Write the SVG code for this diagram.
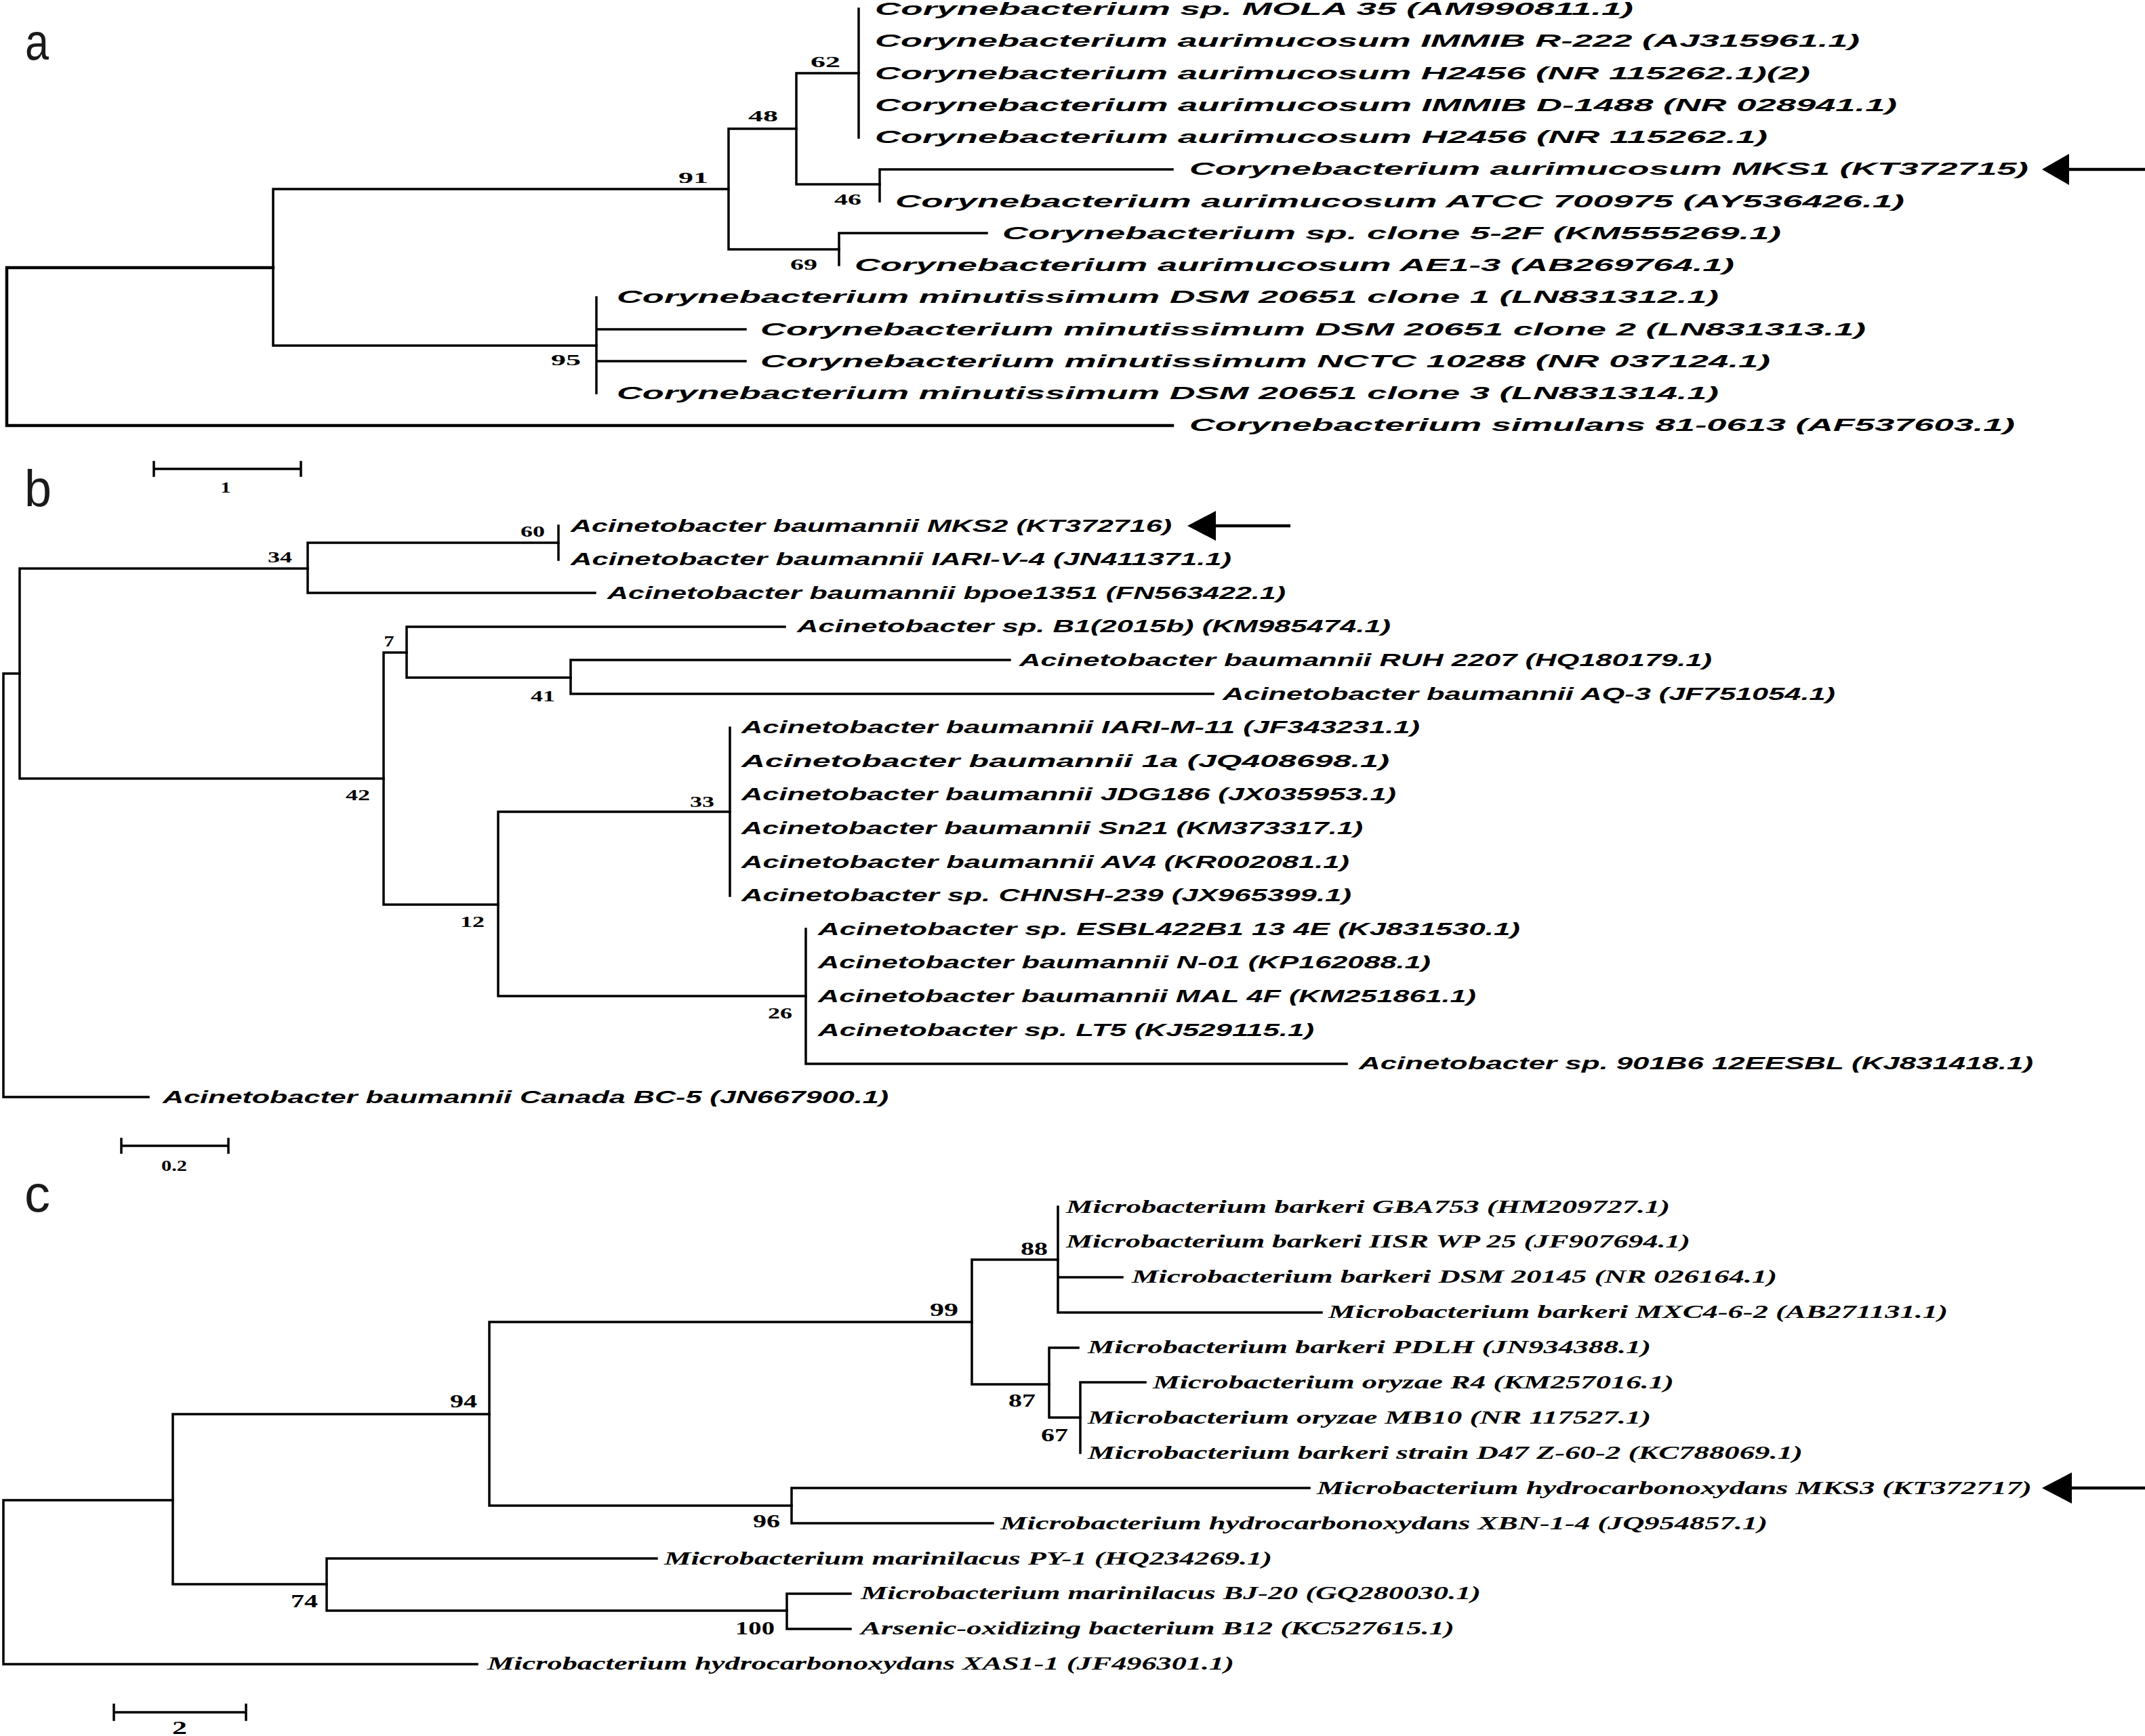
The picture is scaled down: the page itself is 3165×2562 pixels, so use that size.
<svg xmlns="http://www.w3.org/2000/svg" width="3165" height="2562" viewBox="0 0 3165 2562">
<style>
.br{stroke:#000;stroke-width:3.5;fill:none;stroke-linecap:square}
.tk{stroke:#000;stroke-width:4.5;fill:none;stroke-linecap:square}
.ab{font-family:"Liberation Sans",Arial,sans-serif;font-style:italic;font-weight:bold;font-size:26px;fill:#000}
.mc{font-family:"Liberation Serif","Times New Roman",serif;font-style:italic;font-weight:bold;font-size:28px;fill:#000}
.bs{font-family:"Liberation Serif","Times New Roman",serif;font-weight:bold;font-size:23px;text-anchor:middle;fill:#000}
.bc{font-family:"Liberation Serif","Times New Roman",serif;font-weight:bold;font-size:27px;text-anchor:middle;fill:#000}
.pl{font-family:"Liberation Sans",Arial,sans-serif;font-size:76px;fill:#1a1a1a}
.arr{fill:#000}
</style>
<rect width="3165" height="2562" fill="#fff"/>

<!-- Panel letters -->
<g id="label-a"><text class="pl" x="37" y="88" textLength="35" lengthAdjust="spacingAndGlyphs">a</text></g>
<g id="label-b"><text class="pl" x="36" y="747" textLength="40" lengthAdjust="spacingAndGlyphs">b</text></g>
<g id="label-c"><text class="pl" x="36" y="1788" textLength="38" lengthAdjust="spacingAndGlyphs">c</text></g>

<!-- Connectors -->
<g id="connectors">
  <!-- panel a -->
  <path class="tk" d="M10,395 V628 M10,395 H403 M10,628 H1730"/>
  <path class="br" d="M403,279 V510 M403,279 H1075 M403,510 H880"/>
  <path class="br" d="M1075,190 V368 M1075,190 H1175 M1075,368 H1238"/>
  <path class="br" d="M1175,108 V272 M1175,108 H1267 M1175,272 H1298"/>
  <path class="br" d="M1267,13 V203"/>
  <path class="br" d="M1298,250 V297 M1298,250 H1730"/>
  <path class="br" d="M1238,344 V391 M1238,344 H1456"/>
  <path class="br" d="M880,439 V580 M880,486 H1100 M880,533 H1100"/>
  <!-- panel b -->
  <path class="br" d="M5,994 V1619 M5,994 H29 M5,1619 H219"/>
  <path class="br" d="M29,839 V1149 M29,839 H454 M29,1149 H566"/>
  <path class="br" d="M454,801 V875 M454,801 H824 M454,875 H878"/>
  <path class="br" d="M824,776 V826"/>
  <path class="br" d="M566,963 V1335 M566,963 H600 M566,1335 H735"/>
  <path class="br" d="M600,925 V1000 M600,925 H1158 M600,1000 H842"/>
  <path class="br" d="M842,974 V1024 M842,974 H1490 M842,1024 H1790"/>
  <path class="br" d="M735,1198 V1470 M735,1198 H1077 M735,1470 H1189"/>
  <path class="br" d="M1077,1074 V1322"/>
  <path class="br" d="M1189,1371 V1570 M1189,1570 H1987"/>
  <!-- panel c -->
  <path class="br" d="M5,2214 V2456 M5,2214 H255 M5,2456 H704"/>
  <path class="br" d="M255,2087 V2338 M255,2087 H722 M255,2338 H482"/>
  <path class="br" d="M722,1951 V2222 M722,1951 H1434 M722,2222 H1168"/>
  <path class="br" d="M1434,1859 V2043 M1434,1859 H1561 M1434,2043 H1548"/>
  <path class="br" d="M1561,1781 V1937 M1561,1885 H1656 M1561,1937 H1950"/>
  <path class="br" d="M1548,1989 V2092 M1548,1989 H1591 M1548,2092 H1594"/>
  <path class="br" d="M1594,2040 V2144 M1594,2040 H1690"/>
  <path class="br" d="M1168,2196 V2248 M1168,2196 H1932 M1168,2248 H1465"/>
  <path class="br" d="M482,2300 V2377 M482,2300 H969 M482,2377 H1161"/>
  <path class="br" d="M1161,2352 V2404 M1161,2352 H1255 M1161,2404 H1255"/>
  <!-- scale bars -->
  <path class="br" d="M227,692 H444 M227,682 V702 M444,682 V702"/>
  <path class="br" d="M179,1691 H337 M179,1681 V1701 M337,1681 V1701"/>
  <path class="br" d="M168,2527 H363 M168,2516 V2538 M363,2516 V2538"/>
</g>

<!-- Arrows -->
<g id="arrows">
  <polygon class="arr" points="3013,250 3053,227 3053,273"/>
  <line x1="3050" y1="250" x2="3165" y2="250" stroke="#000" stroke-width="4.5"/>
  <polygon class="arr" points="1752,776 1794,754 1794,798"/>
  <line x1="1790" y1="776" x2="1904" y2="776" stroke="#000" stroke-width="4.5"/>
  <polygon class="arr" points="3013,2196 3057,2173 3057,2219"/>
  <line x1="3054" y1="2196" x2="3165" y2="2196" stroke="#000" stroke-width="4.5"/>
</g>

<!-- Scale labels -->
<g id="scale-labels">
  <text class="bs" x="333" y="727" textLength="15" lengthAdjust="spacingAndGlyphs">1</text>
  <text class="bs" x="257" y="1728" textLength="38" lengthAdjust="spacingAndGlyphs">0.2</text>
  <text class="bc" x="265" y="2559" textLength="22" lengthAdjust="spacingAndGlyphs">2</text>
</g>

<!-- Panel a leaves -->
<g id="a-leaves">
  <g id="a1"><text class="ab" x="1291" y="22" textLength="1119" lengthAdjust="spacingAndGlyphs">Corynebacterium sp. MOLA 35 (AM990811.1)</text></g>
  <g id="a2"><text class="ab" x="1291" y="69" textLength="1453" lengthAdjust="spacingAndGlyphs">Corynebacterium aurimucosum IMMIB R-222 (AJ315961.1)</text></g>
  <g id="a3"><text class="ab" x="1291" y="116.5" textLength="1380" lengthAdjust="spacingAndGlyphs">Corynebacterium aurimucosum H2456 (NR 115262.1)(2)</text></g>
  <g id="a4"><text class="ab" x="1291" y="163.8" textLength="1508" lengthAdjust="spacingAndGlyphs">Corynebacterium aurimucosum IMMIB D-1488 (NR 028941.1)</text></g>
  <g id="a5"><text class="ab" x="1291" y="211" textLength="1317" lengthAdjust="spacingAndGlyphs">Corynebacterium aurimucosum H2456 (NR 115262.1)</text></g>
  <g id="a6"><text class="ab" x="1755" y="258" textLength="1238" lengthAdjust="spacingAndGlyphs">Corynebacterium aurimucosum MKS1 (KT372715)</text></g>
  <g id="a7"><text class="ab" x="1321" y="305.5" textLength="1489" lengthAdjust="spacingAndGlyphs">Corynebacterium aurimucosum ATCC 700975 (AY536426.1)</text></g>
  <g id="a8"><text class="ab" x="1479" y="352.8" textLength="1149" lengthAdjust="spacingAndGlyphs">Corynebacterium sp. clone 5-2F (KM555269.1)</text></g>
  <g id="a9"><text class="ab" x="1261" y="400" textLength="1298" lengthAdjust="spacingAndGlyphs">Corynebacterium aurimucosum AE1-3 (AB269764.1)</text></g>
  <g id="a10"><text class="ab" x="910" y="447.3" textLength="1626" lengthAdjust="spacingAndGlyphs">Corynebacterium minutissimum DSM 20651 clone 1 (LN831312.1)</text></g>
  <g id="a11"><text class="ab" x="1122" y="494.5" textLength="1631" lengthAdjust="spacingAndGlyphs">Corynebacterium minutissimum DSM 20651 clone 2 (LN831313.1)</text></g>
  <g id="a12"><text class="ab" x="1122" y="541.8" textLength="1490" lengthAdjust="spacingAndGlyphs">Corynebacterium minutissimum NCTC 10288 (NR 037124.1)</text></g>
  <g id="a13"><text class="ab" x="910" y="589" textLength="1626" lengthAdjust="spacingAndGlyphs">Corynebacterium minutissimum DSM 20651 clone 3 (LN831314.1)</text></g>
  <g id="a14"><text class="ab" x="1755" y="636.3" textLength="1218" lengthAdjust="spacingAndGlyphs">Corynebacterium simulans 81-0613 (AF537603.1)</text></g>
</g>
<g id="a-support">
  <text class="bs" x="1218" y="99" textLength="44" lengthAdjust="spacingAndGlyphs">62</text>
  <text class="bs" x="1126" y="179" textLength="44" lengthAdjust="spacingAndGlyphs">48</text>
  <text class="bs" x="1023" y="270" textLength="44" lengthAdjust="spacingAndGlyphs">91</text>
  <text class="bs" x="1251" y="302" textLength="40" lengthAdjust="spacingAndGlyphs">46</text>
  <text class="bs" x="1186" y="398" textLength="40" lengthAdjust="spacingAndGlyphs">69</text>
  <text class="bs" x="835" y="539" textLength="44" lengthAdjust="spacingAndGlyphs">95</text>
</g>

<!-- Panel b leaves -->
<g id="b-leaves">
  <g id="b1"><text class="ab" x="842" y="784.5" textLength="887" lengthAdjust="spacingAndGlyphs">Acinetobacter baumannii MKS2 (KT372716)</text></g>
  <g id="b2"><text class="ab" x="842" y="834" textLength="975" lengthAdjust="spacingAndGlyphs">Acinetobacter baumannii IARI-V-4 (JN411371.1)</text></g>
  <g id="b3"><text class="ab" x="896" y="883.7" textLength="1001" lengthAdjust="spacingAndGlyphs">Acinetobacter baumannii bpoe1351 (FN563422.1)</text></g>
  <g id="b4"><text class="ab" x="1176" y="933.3" textLength="876" lengthAdjust="spacingAndGlyphs">Acinetobacter sp. B1(2015b) (KM985474.1)</text></g>
  <g id="b5"><text class="ab" x="1504" y="983" textLength="1022" lengthAdjust="spacingAndGlyphs">Acinetobacter baumannii RUH 2207 (HQ180179.1)</text></g>
  <g id="b6"><text class="ab" x="1804" y="1032.5" textLength="904" lengthAdjust="spacingAndGlyphs">Acinetobacter baumannii AQ-3 (JF751054.1)</text></g>
  <g id="b7"><text class="ab" x="1094" y="1082" textLength="1001" lengthAdjust="spacingAndGlyphs">Acinetobacter baumannii IARI-M-11 (JF343231.1)</text></g>
  <g id="b8"><text class="ab" x="1094" y="1131.7" textLength="956" lengthAdjust="spacingAndGlyphs">Acinetobacter baumannii 1a (JQ408698.1)</text></g>
  <g id="b9"><text class="ab" x="1094" y="1181.3" textLength="966" lengthAdjust="spacingAndGlyphs">Acinetobacter baumannii JDG186 (JX035953.1)</text></g>
  <g id="b10"><text class="ab" x="1094" y="1231" textLength="917" lengthAdjust="spacingAndGlyphs">Acinetobacter baumannii Sn21 (KM373317.1)</text></g>
  <g id="b11"><text class="ab" x="1094" y="1280.5" textLength="897" lengthAdjust="spacingAndGlyphs">Acinetobacter baumannii AV4 (KR002081.1)</text></g>
  <g id="b12"><text class="ab" x="1094" y="1330" textLength="900" lengthAdjust="spacingAndGlyphs">Acinetobacter sp. CHNSH-239 (JX965399.1)</text></g>
  <g id="b13"><text class="ab" x="1207" y="1379.7" textLength="1036" lengthAdjust="spacingAndGlyphs">Acinetobacter sp. ESBL422B1 13 4E (KJ831530.1)</text></g>
  <g id="b14"><text class="ab" x="1207" y="1429.3" textLength="904" lengthAdjust="spacingAndGlyphs">Acinetobacter baumannii N-01 (KP162088.1)</text></g>
  <g id="b15"><text class="ab" x="1207" y="1479" textLength="971" lengthAdjust="spacingAndGlyphs">Acinetobacter baumannii MAL 4F (KM251861.1)</text></g>
  <g id="b16"><text class="ab" x="1207" y="1528.5" textLength="732" lengthAdjust="spacingAndGlyphs">Acinetobacter sp. LT5 (KJ529115.1)</text></g>
  <g id="b17"><text class="ab" x="2005" y="1578" textLength="995" lengthAdjust="spacingAndGlyphs">Acinetobacter sp. 901B6 12EESBL (KJ831418.1)</text></g>
  <g id="b18"><text class="ab" x="240" y="1627.7" textLength="1071" lengthAdjust="spacingAndGlyphs">Acinetobacter baumannii Canada BC-5 (JN667900.1)</text></g>
</g>
<g id="b-support">
  <text class="bs" x="786" y="792" textLength="36" lengthAdjust="spacingAndGlyphs">60</text>
  <text class="bs" x="413" y="830" textLength="36" lengthAdjust="spacingAndGlyphs">34</text>
  <text class="bs" x="574" y="954" textLength="15" lengthAdjust="spacingAndGlyphs">7</text>
  <text class="bs" x="801" y="1035" textLength="36" lengthAdjust="spacingAndGlyphs">41</text>
  <text class="bs" x="528" y="1181" textLength="36" lengthAdjust="spacingAndGlyphs">42</text>
  <text class="bs" x="1036" y="1191" textLength="36" lengthAdjust="spacingAndGlyphs">33</text>
  <text class="bs" x="697" y="1368" textLength="36" lengthAdjust="spacingAndGlyphs">12</text>
  <text class="bs" x="1151" y="1503" textLength="36" lengthAdjust="spacingAndGlyphs">26</text>
</g>

<!-- Panel c leaves -->
<g id="c-leaves">
  <g id="c1"><text class="mc" x="1573" y="1789.5" textLength="891" lengthAdjust="spacingAndGlyphs">Microbacterium barkeri GBA753 (HM209727.1)</text></g>
  <g id="c2"><text class="mc" x="1573" y="1841.4" textLength="921" lengthAdjust="spacingAndGlyphs">Microbacterium barkeri IISR WP 25 (JF907694.1)</text></g>
  <g id="c3"><text class="mc" x="1670" y="1893.3" textLength="952" lengthAdjust="spacingAndGlyphs">Microbacterium barkeri DSM 20145 (NR 026164.1)</text></g>
  <g id="c4"><text class="mc" x="1960" y="1945.2" textLength="914" lengthAdjust="spacingAndGlyphs">Microbacterium barkeri MXC4-6-2 (AB271131.1)</text></g>
  <g id="c5"><text class="mc" x="1605" y="1997.1" textLength="831" lengthAdjust="spacingAndGlyphs">Microbacterium barkeri PDLH (JN934388.1)</text></g>
  <g id="c6"><text class="mc" x="1701" y="2049" textLength="769" lengthAdjust="spacingAndGlyphs">Microbacterium oryzae R4 (KM257016.1)</text></g>
  <g id="c7"><text class="mc" x="1605" y="2100.9" textLength="831" lengthAdjust="spacingAndGlyphs">Microbacterium oryzae MB10 (NR 117527.1)</text></g>
  <g id="c8"><text class="mc" x="1605" y="2152.8" textLength="1055" lengthAdjust="spacingAndGlyphs">Microbacterium barkeri strain D47 Z-60-2 (KC788069.1)</text></g>
  <g id="c9"><text class="mc" x="1943" y="2204.7" textLength="1055" lengthAdjust="spacingAndGlyphs">Microbacterium hydrocarbonoxydans MKS3 (KT372717)</text></g>
  <g id="c10"><text class="mc" x="1476" y="2256.6" textLength="1132" lengthAdjust="spacingAndGlyphs">Microbacterium hydrocarbonoxydans XBN-1-4 (JQ954857.1)</text></g>
  <g id="c11"><text class="mc" x="980" y="2308.5" textLength="897" lengthAdjust="spacingAndGlyphs">Microbacterium marinilacus PY-1 (HQ234269.1)</text></g>
  <g id="c12"><text class="mc" x="1270" y="2360.4" textLength="915" lengthAdjust="spacingAndGlyphs">Microbacterium marinilacus BJ-20 (GQ280030.1)</text></g>
  <g id="c13"><text class="mc" x="1270" y="2412.3" textLength="876" lengthAdjust="spacingAndGlyphs">Arsenic-oxidizing bacterium B12 (KC527615.1)</text></g>
  <g id="c14"><text class="mc" x="719" y="2464.2" textLength="1102" lengthAdjust="spacingAndGlyphs">Microbacterium hydrocarbonoxydans XAS1-1 (JF496301.1)</text></g>
</g>
<g id="c-support">
  <text class="bc" x="1526" y="1852" textLength="40" lengthAdjust="spacingAndGlyphs">88</text>
  <text class="bc" x="1393" y="1942" textLength="42" lengthAdjust="spacingAndGlyphs">99</text>
  <text class="bc" x="1508" y="2076" textLength="40" lengthAdjust="spacingAndGlyphs">87</text>
  <text class="bc" x="1556" y="2127" textLength="40" lengthAdjust="spacingAndGlyphs">67</text>
  <text class="bc" x="684" y="2077" textLength="40" lengthAdjust="spacingAndGlyphs">94</text>
  <text class="bc" x="1131" y="2254" textLength="40" lengthAdjust="spacingAndGlyphs">96</text>
  <text class="bc" x="449" y="2372" textLength="40" lengthAdjust="spacingAndGlyphs">74</text>
  <text class="bc" x="1114" y="2412" textLength="58" lengthAdjust="spacingAndGlyphs">100</text>
</g>
</svg>
